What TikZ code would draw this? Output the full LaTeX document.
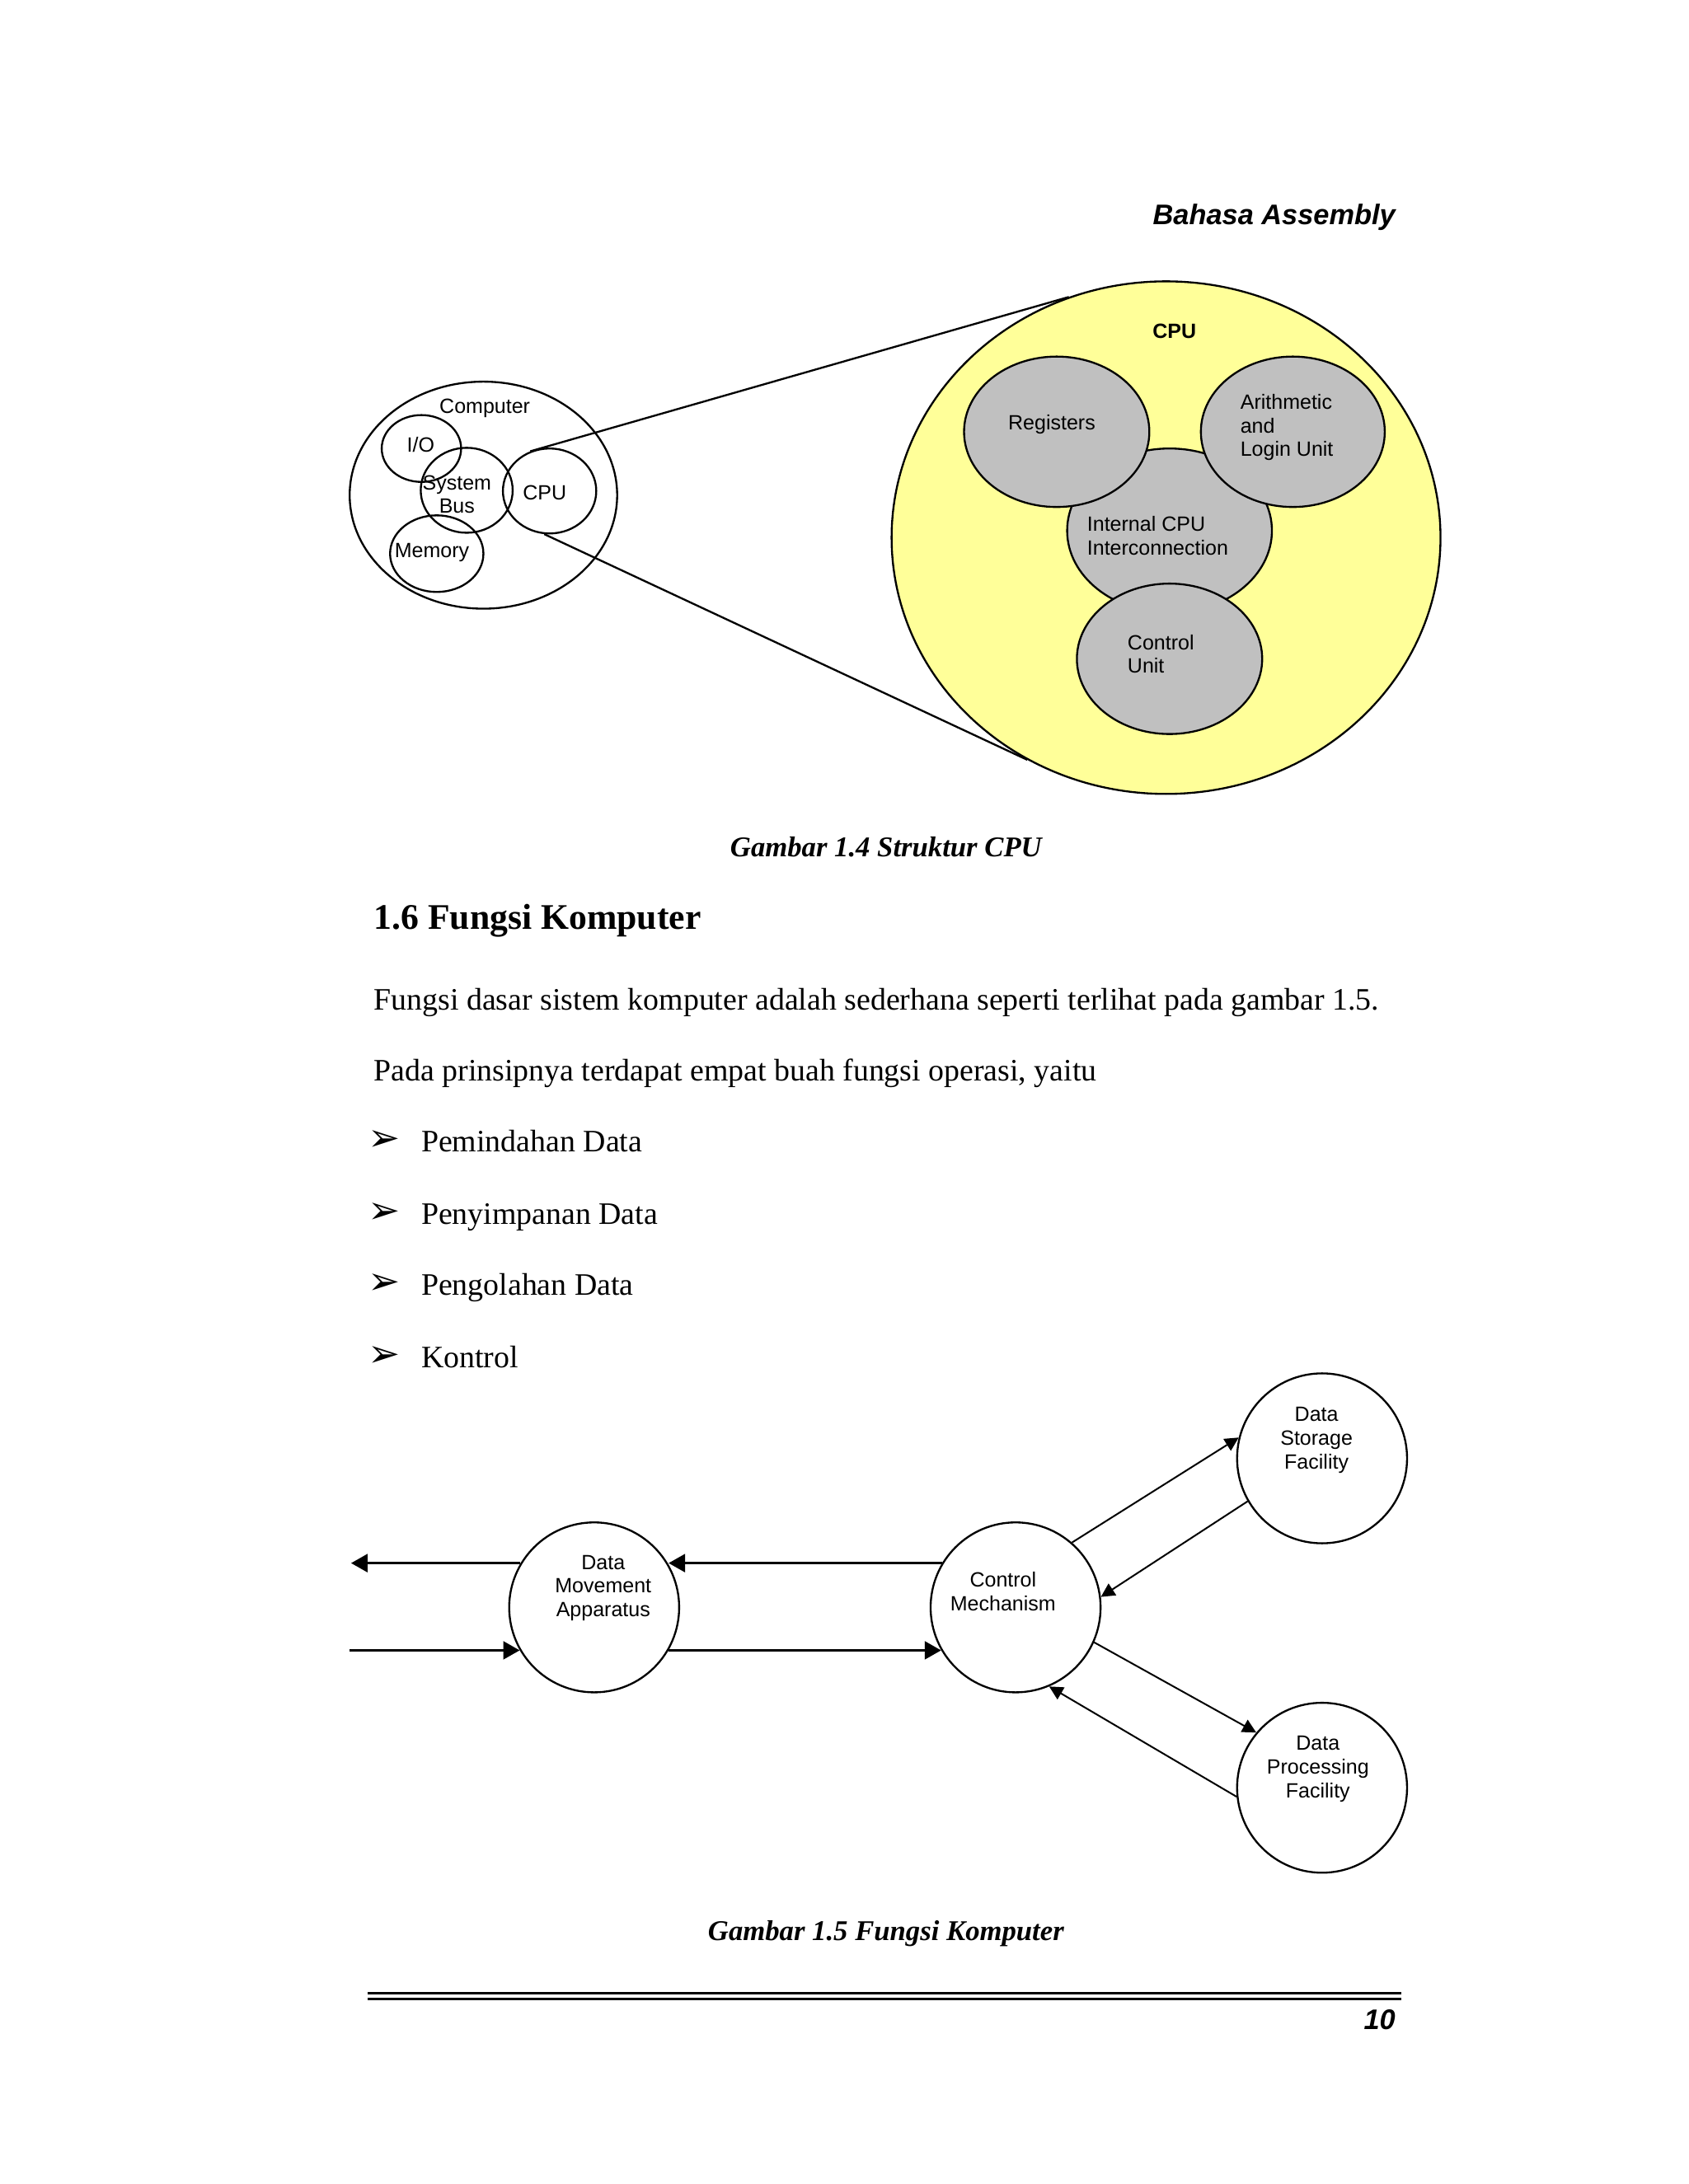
\documentclass[tikz,border=0pt]{standalone}
\usepackage{fontspec}
\setmainfont{Liberation Serif}
\setsansfont{Liberation Sans}
\newfontfamily\symfont{DejaVu Sans}
\usetikzlibrary{shapes.geometric,arrows.meta}
\def\pu{0.017813cm}
\definecolor{cpuyellow}{RGB}{255,255,153}
\definecolor{unitgray}{RGB}{192,192,192}
\tikzset{
  ell/.style 2 args={ellipse, draw, line width=0.7pt, minimum width=#1*\pu, minimum height=#2*\pu, inner sep=0pt},
  lbl/.style={font=\sffamily\fontsize{7.5}{8.6}\selectfont, inner sep=0pt},
  body/.style={font=\fontsize{11.35}{13}\selectfont, anchor=base west, inner sep=0pt},
  flow/.style={-{Triangle[length=5pt,width=5pt]}, line width=0.6pt},
  bigflow/.style={-{Triangle[length=6pt,width=6.5pt]}, line width=1pt},
}
\begin{document}
\begin{tikzpicture}[x=\pu, y=-\pu, line join=round]
    \useasboundingbox (0,0) rectangle (1212,1568);
    % header
    \node[font=\sffamily\bfseries\itshape\fontsize{10.3}{12}\selectfont, anchor=east, inner sep=0pt] (head) at (1002,156) {Bahasa Assembly};
    % computer
    \node[ell={192}{163}] (comp) at (347,355.5) {};
    \node[ell={57}{48}] (io) at (302.5,322) {};
    \node[ell={66}{61}] (bus) at (335,352) {};
    \node[ell={67}{61}] (cpusm) at (394.5,352.5) {};
    \node[ell={67}{55}] (mem) at (313.5,397.5) {};
    \node[lbl] (compT) at (348,293) {Computer};
    \node[lbl] (ioT) at (302,319) {I/O};
    \node[lbl, align=center] (busT) at (328,355) {System\\Bus};
    \node[lbl] (cpusmT) at (391,354) {CPU};
    \node[lbl] (memT) at (310,397) {Memory};
    % cpu
    \node[ell={394}{368}, fill=cpuyellow] (cpubig) at (837,386) {};
    \node[ell={147}{118}, fill=unitgray] (icpu) at (839.5,381) {};
    \node[ell={133}{108}, fill=unitgray] (reg) at (758.5,310) {};
    \node[ell={132}{108}, fill=unitgray] (alu) at (928,310) {};
    \node[ell={133}{108}, fill=unitgray] (cu) at (839.5,473) {};
    \node[lbl, font=\sffamily\bfseries\fontsize{7.5}{8.6}\selectfont] (cpuT) at (843,238) {CPU};
    \node[lbl] (regT) at (755,305) {Registers};
    \node[lbl, anchor=west, align=left] (aluT) at (890,307) {Arithmetic\\and\\Login Unit};
    \node[lbl, anchor=west, align=left] (icpuT) at (780,384.5) {Internal CPU\\Interconnection};
    \node[lbl, anchor=west, align=left] (cuT) at (809,469.5) {Control\\Unit};
    \draw[line width=0.7pt] (cpusm.116) -- (cpubig.112.7);
    \draw[line width=0.7pt] (cpusm.263) -- (cpubig.238.6);
    \node[font=\bfseries\itshape\fontsize{10.4}{12}\selectfont, inner sep=0pt] (cap1) at (636,608) {Gambar 1.4 Struktur CPU};
    % text
    \node[body, font=\bfseries\fontsize{13.1}{15}\selectfont] (sec) at (268,667) {1.6 Fungsi Komputer};
    \node[body] (par1) at (268,725) {Fungsi dasar sistem komputer adalah sederhana seperti terlihat pada gambar 1.5.};
    \node[body] (par2) at (268,776) {Pada prinsipnya terdapat empat buah fungsi operasi, yaitu};
    \foreach \y/\t [count=\i] in {819/Pemindahan Data, 871/Penyimpanan Data, 922/Pengolahan Data, 974/Kontrol} {
        \node[font=\symfont\bfseries\fontsize{14}{15}\selectfont, inner sep=0pt] (bul\i) at (276,\y) {➢};
        \node[body] (item\i) at (302,\y+8) {\t};
    }
    % functions
    \node[ell={122}{122}] (dma) at (426.5,1154) {};
    \node[ell={122}{122}] (cm) at (729,1154) {};
    \node[ell={122}{122}] (dsf) at (949,1047) {};
    \node[ell={122}{122}] (dpf) at (949,1283.5) {};
    \node[lbl, align=center] (dmaT) at (433,1140) {Data\\Movement\\Apparatus};
    \node[lbl, align=center] (cmT) at (720,1142.5) {Control\\Mechanism};
    \node[lbl, align=center] (dsfT) at (945,1034) {Data\\Storage\\Facility};
    \node[lbl, align=center] (dpfT) at (946,1270) {Data\\Processing\\Facility};
    \coordinate (outL) at (252,1123);
    \coordinate (inL) at (251,1184);
    \draw[bigflow] (dma.149.5) -- (dma.149.5 -| outL);
    \draw[bigflow] (inL |- dma.210) -- (dma.210);
    \draw[bigflow] (cm.149.5) -- (cm.149.5 -| dma.30.5);
    \draw[bigflow] (dma.-30) -- (dma.-30 -| cm.210);
    \draw[flow] (cm.49.7) -- (dsf.166);
    \draw[flow] (dsf.210) -- (cm.7);
    \draw[flow] (cm.-24) -- (dpf.140);
    \draw[flow] (dpf.186) -- (cm.293.5);
    \node[font=\bfseries\itshape\fontsize{10.4}{12}\selectfont, inner sep=0pt] (cap2) at (636,1388) {Gambar 1.5 Fungsi Komputer};
    % footer
    \draw[line width=0.9pt] (264,1431) coordinate (fl1) -- (1006,1431) coordinate (fr1);
    \draw[line width=0.9pt] (264,1435) coordinate (fl2) -- (1006,1435) coordinate (fr2);
    \node[font=\sffamily\bfseries\itshape\fontsize{10.3}{12}\selectfont, anchor=east, inner sep=0pt] (pnum) at (1002,1450) {10};
\end{tikzpicture}
\end{document}
